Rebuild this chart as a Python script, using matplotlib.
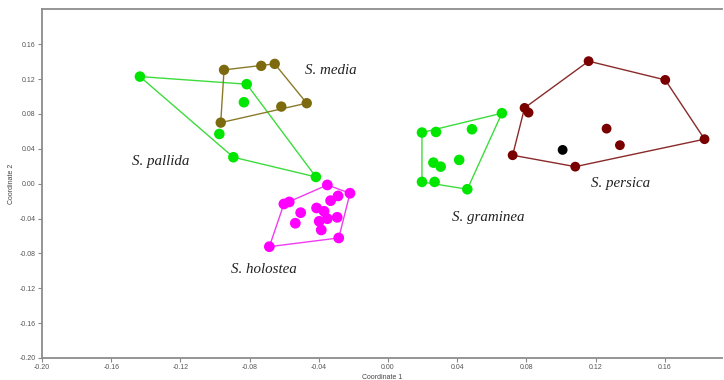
import numpy as np
import matplotlib
matplotlib.use('Agg')
import matplotlib.pyplot as plt

# PCoA coordinates, one group per species
pallida_x = [-0.1434, -0.0817, -0.0833, -0.0975, -0.0894, -0.0417]
pallida_y = [0.1228, 0.1141, 0.0934, 0.0570, 0.0303, 0.0077]

media_x = [-0.0948, -0.0733, -0.0655, -0.0470, -0.0617, -0.0967]
media_y = [0.1305, 0.1351, 0.1374, 0.0923, 0.0884, 0.0700]

holostea_x = [-0.0351, -0.0220, -0.0289, -0.0332, -0.0571, -0.0602, -0.0505, -0.0413,
              -0.0370, -0.0294, -0.0351, -0.0398, -0.0536, -0.0386, -0.0285, -0.0686]
holostea_y = [-0.0015, -0.0110, -0.0141, -0.0195, -0.0210, -0.0233, -0.0333, -0.0279,
              -0.0317, -0.0386, -0.0402, -0.0432, -0.0454, -0.0531, -0.0623, -0.0723]

graminea_x = [0.0658, 0.0485, 0.0196, 0.0277, 0.0411, 0.0262, 0.0304, 0.0196, 0.0269, 0.0458]
graminea_y = [0.0808, 0.0624, 0.0586, 0.0593, 0.0272, 0.0241, 0.0195, 0.0020, 0.0020, -0.0064]

persica_x = [0.1159, 0.1602, 0.0789, 0.0812, 0.1263, 0.1340, 0.1829, 0.0720, 0.1082]
persica_y = [0.1405, 0.1190, 0.0869, 0.0815, 0.0631, 0.0441, 0.0510, 0.0326, 0.0195]

other_x = [0.1009]
other_y = [0.0387]

ticks = [-0.20, -0.16, -0.12, -0.08, -0.04, 0.00, 0.04, 0.08, 0.12, 0.16]


def hull(xs, ys):
    # monotone chain convex hull
    pts = sorted(zip(xs, ys))
    def cross(o, a, b):
        return (a[0]-o[0])*(b[1]-o[1]) - (a[1]-o[1])*(b[0]-o[0])
    lower, upper = [], []
    for p in pts:
        while len(lower) >= 2 and cross(lower[-2], lower[-1], p) <= 0:
            lower.pop()
        lower.append(p)
    for p in reversed(pts):
        while len(upper) >= 2 and cross(upper[-2], upper[-1], p) <= 0:
            upper.pop()
        upper.append(p)
    h = lower[:-1] + upper[:-1]
    h.append(h[0])
    return np.array(h)


fig = plt.figure(figsize=(7.24, 3.80), dpi=100)
ax = fig.add_axes([42/724, 1-358/380, 680/724, (358-9.3)/380])

groups = [
    (pallida_x, pallida_y, '#00e600', '#3ddc3d', 58),
    (media_x, media_y, '#7d6a0e', '#8a7a2a', 56),
    (holostea_x, holostea_y, '#ff00ff', '#f03cf0', 60),
    (graminea_x, graminea_y, '#00e600', '#3ddc3d', 58),
    (persica_x, persica_y, '#7a0000', '#8a2a2a', 50),
]
for xs, ys, c, lc, sz in groups:
    h = hull(xs, ys)
    ax.plot(h[:, 0], h[:, 1], color=lc, lw=1.0, zorder=1)
    ax.scatter(xs, ys, s=sz, color=c, edgecolors='none', zorder=2)
ax.scatter(other_x, other_y, s=50, color='black', edgecolors='none', zorder=2)

lab = dict(fontsize=10.8, style='italic', family='Liberation Serif', color='#222222', va='center')
ax.text(-0.0478, 0.130, 'S. media', **lab)
ax.text(-0.1480, 0.0250, 'S. pallida', **lab)
ax.text(-0.0905, -0.0980, 'S. holostea', **lab)
ax.text(0.0370, -0.0385, 'S. graminea', **lab)
ax.text(0.1175, 0.0005, 'S. persica', **lab)

ax.set_xlim(-0.20, 0.193)
ax.set_ylim(-0.20, 0.20)
ax.set_xticks(ticks)
ax.set_yticks(ticks)
ax.set_xticklabels(['%.2f' % t for t in ticks])
ax.set_yticklabels(['%.2f' % t for t in ticks])
ax.tick_params(labelsize=5, colors='#888888', labelcolor='#555555', length=3, width=0.8, direction='out', pad=1.5)
for t in ax.get_xticklabels() + ax.get_yticklabels():
    t.set_family('Liberation Sans')
ax.set_xlabel('Coordinate 1', fontsize=5, color='#444444', family='Liberation Sans', labelpad=2)
ax.set_ylabel('Coordinate 2', fontsize=5, color='#444444', family='Liberation Sans', labelpad=3)
for s in ['left', 'bottom', 'top']:
    ax.spines[s].set_color('#8c8c8c')
    ax.spines[s].set_linewidth(1.3)
ax.spines['right'].set_visible(False)

fig.savefig('out.png', dpi=100)
